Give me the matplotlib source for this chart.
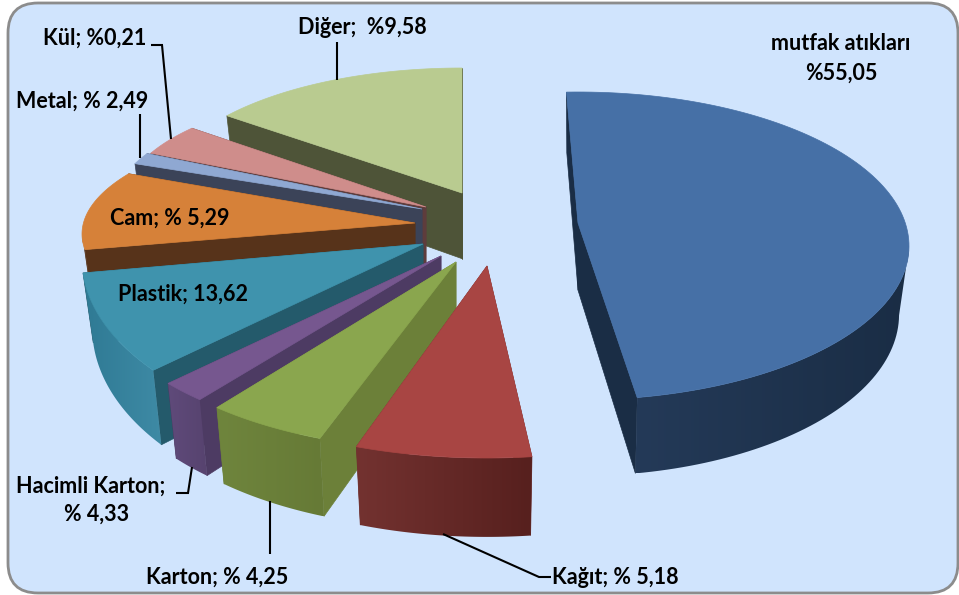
import numpy as np
import matplotlib
matplotlib.use("Agg")
import matplotlib.pyplot as plt
from matplotlib.colors import to_rgb
from matplotlib.patches import FancyBboxPatch, Polygon

# the labels printed on the chart
names = ["mutfak atıkları", "Kağıt", "Karton", "Hacimli Karton", "Plastik", "Cam", "Metal", "Kül", "Diğer"]
label_pct = [55.05, 5.18, 4.25, 4.33, 13.62, 5.29, 2.49, 0.21, 9.58]

# slice widths as they look in the picture, degrees (the 3d view distorts them)
span_deg = [171.7, 30.2, 21.1, 8.2, 33.3, 38.3, 5.3, 15.2, 51.6]
start_deg = [92.0, -82.4, -113.6, -135.2, -142.3, -172.4, 157.8, 156.5, 141.6]

# layout of each exploded slice, in pixels: tip, rim radii, rim centre below the tip
tip_x = [578, 487, 456, 441, 423, 415, 422, 426, 462]
tip_y = [223, 266, 262, 256, 244, 223, 209, 207, 193]
rim_rx = [331, 340, 340, 340, 341, 333, 310, 300, 300]
rim_ry = [154, 147, 150, 150, 182, 118, 120, 110, 126]
rim_dy = [23, 45, 39, 38, 15, 11, 0, -10, 1]

top_colors = ["#4670a6", "#a84543", "#8aa64e", "#76578f", "#3f93ad", "#d68139", "#8fa8d2", "#cf8d8b", "#b9cb90"]
side_colors = ["#1a2d45", "#6e2f2d", "#6c8039", "#4d3b63", "#245a6b", "#57331a", "#3b4358", "#5e3c3c", "#4e5438"]
wall_left = ["#243a58", "#733230", "#6f853d", "#5f4a7a", "#2f7a94", "#57331a", "#3b4358", "#5e3c3c", "#4e5438"]
wall_right = ["#1a2d45", "#57201e", "#667a36", "#57436f", "#3e8aa5", "#57331a", "#3b4358", "#5e3c3c", "#4e5438"]

# back slices first so the front ones cover them
draw_order = [8, 7, 6, 5, 4, 3, 2, 1, 0]


def drop(x, y, tx):
    # bottom edge of the wall: taller toward the viewer, pulled a bit to the slice tip
    return x + (tx - x) * 0.03, y + 66 + (y - 200) * 0.05


fig = plt.figure(figsize=(9.59, 5.95), dpi=100)
ax = fig.add_axes([0, 0, 1, 1])
ax.axis("off")

ax.add_patch(FancyBboxPatch((8 + 30, 3 + 30), 950 - 60, 590 - 60, boxstyle="round,pad=30,rounding_size=30",
                            facecolor="#d0e4fd", edgecolor="#8c8c8c", linewidth=2, zorder=0))

z = 1
for i in draw_order:
    theta = np.radians(np.linspace(start_deg[i], start_deg[i] - span_deg[i], 120))
    rx_pts = tip_x[i] + rim_rx[i] * np.cos(theta)
    ry_pts = tip_y[i] + rim_dy[i] - rim_ry[i] * np.sin(theta)

    # the two flat cut walls
    for k in [0, -1]:
        bx1, by1 = drop(tip_x[i], tip_y[i], tip_x[i])
        bx2, by2 = drop(rx_pts[k], ry_pts[k], tip_x[i])
        ax.add_patch(Polygon([(tip_x[i], tip_y[i]), (rx_pts[k], ry_pts[k]), (bx2, by2), (bx1, by1)],
                             facecolor=side_colors[i], edgecolor=side_colors[i], linewidth=0.5, zorder=z))
        z += 1

    # outer wall: one gradient image clipped to the wall outline, front half of the rim only
    front = np.sin(theta) <= 0
    if front.sum() > 1:
        bx, by = drop(rx_pts[front], ry_pts[front], tip_x[i])
        wall_xy = np.column_stack([np.r_[rx_pts[front], bx[::-1]], np.r_[ry_pts[front], by[::-1]]])
        wall = Polygon(wall_xy, facecolor="none", edgecolor="none", transform=ax.transData)
        ax.add_patch(wall)
        c1 = np.array(to_rgb(wall_left[i]))
        c2 = np.array(to_rgb(wall_right[i]))
        grad = np.linspace(0, 1, 64)[None, :, None]
        img = ax.imshow(c1 + (c2 - c1) * grad, aspect="auto", interpolation="bilinear", zorder=z,
                        extent=[wall_xy[:, 0].min(), wall_xy[:, 0].max(), wall_xy[:, 1].max(), wall_xy[:, 1].min()])
        img.set_clip_path(wall)
        z += 1

    # top face
    pts = [(tip_x[i], tip_y[i])] + list(zip(rx_pts, ry_pts))
    ax.add_patch(Polygon(pts, facecolor=top_colors[i], edgecolor=top_colors[i], linewidth=0.5, zorder=z))
    z += 1

# leader lines
leaders = [
    ([337, 337], [42, 80]),
    ([151, 162, 171], [45, 45, 139]),
    ([140, 140], [114, 158]),
    ([176, 188, 192], [493, 493, 467]),
    ([270, 270], [501, 554]),
    ([443, 539, 551], [534, 577, 577]),
]
for lx, ly in leaders:
    ax.plot(lx, ly, color="black", lw=1.5, solid_capstyle="butt", solid_joinstyle="miter", zorder=z)

font = dict(family="Lato", fontweight="bold", fontsize=15.5, color="black", zorder=z + 1, va="center")
ax.text(841, 44, names[0], ha="center", **font)
ax.text(841, 73, f"%{label_pct[0]:.2f}".replace(".", ","), ha="center", **font)
ax.text(362, 27, f"{names[8]};  %{label_pct[8]:.2f}".replace(".", ","), ha="center", **font)
ax.text(43, 38, f"{names[7]}; %{label_pct[7]:.2f}".replace(".", ","), ha="left", **font)
ax.text(16, 101, f"{names[6]}; % {label_pct[6]:.2f}".replace(".", ","), ha="left", **font)
ax.text(110, 218, f"{names[5]}; % {label_pct[5]:.2f}".replace(".", ","), ha="left", **font)
ax.text(118, 294, f"{names[4]}; {label_pct[4]:.2f}".replace(".", ","), ha="left", **font)
ax.text(16, 486, f"{names[3]};", ha="left", **font)
ax.text(97, 514, f"% {label_pct[3]:.2f}".replace(".", ","), ha="center", **font)
ax.text(146, 577, f"{names[2]}; % {label_pct[2]:.2f}".replace(".", ","), ha="left", **font)
ax.text(552, 577, f"{names[1]}; % {label_pct[1]:.2f}".replace(".", ","), ha="left", **font)

# imshow changes the limits, so set the pixel frame last
ax.set_xlim(0, 959)
ax.set_ylim(595, 0)

fig.savefig("out.png", dpi=100)
